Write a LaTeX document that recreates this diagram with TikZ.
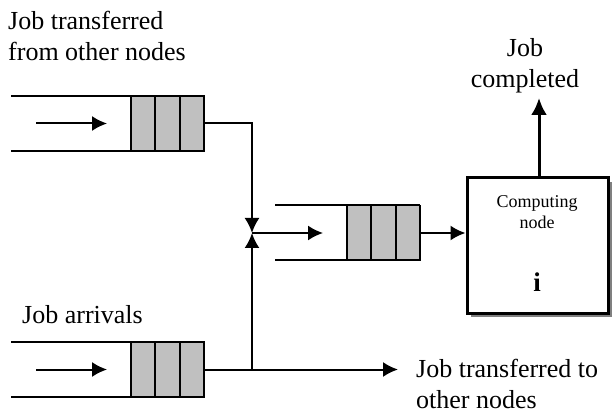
\documentclass[tikz,border=0pt]{standalone}
\usepackage{fontspec}
\setmainfont{Liberation Serif}
\usepackage{tikz}
\usetikzlibrary{positioning,arrows.meta,shadows}

\definecolor{cellgray}{HTML}{C0C0C0}

\tikzset{
  cell/.style={draw, fill=cellgray, line width=1.8pt, minimum width=24.3pt,
    minimum height=55pt, inner sep=0pt, outer sep=0pt},
  wall/.style={line width=2pt},
  link/.style={line width=2pt},
  flow/.style={line width=2pt, -{Latex[length=15pt,width=15pt]}},
  outflow/.style={line width=3pt, -{Latex[length=17pt,width=16pt]}},
  txt/.style={font=\fontsize{26}{31}\selectfont, align=left, inner sep=0pt},
  smalltxt/.style={font=\fontsize{18}{21}\selectfont, align=center, inner sep=0pt},
  compnode/.style={draw, fill=white, line width=3pt, minimum width=141pt,
    minimum height=135pt, drop shadow={shadow xshift=4pt, shadow yshift=-4pt,
    fill=black!50, opacity=1}},
}

\begin{document}
\begin{tikzpicture}[x=1pt, y=-1pt]
\useasboundingbox (0,0) rectangle (616,414);

% queue of jobs coming from the other nodes
\node[cell] (a1) at (143.2,123.5) {};
\node[cell, right=0pt of a1] (a2) {};
\node[cell, right=0pt of a2] (a3) {};
\draw[wall] (a1.north west) ++(-120,0) -- (a3.north east);
\draw[wall] (a1.south west) ++(-120,0) -- (a3.south east);
\draw[flow] ([xshift=-95pt]a1.west) -- ([xshift=-24pt]a1.west);

% local arrival queue
\node[cell] (c1) at (143.2,369.5) {};
\node[cell, right=0pt of c1] (c2) {};
\node[cell, right=0pt of c2] (c3) {};
\draw[wall] (c1.north west) ++(-120,0) -- (c3.north east);
\draw[wall] (c1.south west) ++(-120,0) -- (c3.south east);
\draw[flow] ([xshift=-95pt]c1.west) -- ([xshift=-24pt]c1.west);

% service queue
\node[cell] (b1) at (359.2,233) {};
\node[cell, right=0pt of b1] (b2) {};
\node[cell, right=0pt of b2] (b3) {};
\draw[wall] (b1.north west) ++(-72,0) -- (b3.north east);
\draw[wall] (b1.south west) ++(-72,0) -- (b3.south east);

% computing node
\node[compnode] (cn) at (537.5,245.5) {};
\node[smalltxt] (cname) at (537,212.5) {Computing\\node};
\node[font=\bfseries\fontsize{27}{32}\selectfont, inner sep=0pt, anchor=base] (cid) at (537,291) {i};

\coordinate (join) at (252,233);
\coordinate (split) at (c3.east -| join);
\coordinate (away) at (398,369.5);
\coordinate (done) at (539,98);

\draw[flow] (a3.east) -| (join);
\draw[link] (c3.east) -- (split);
\draw[flow] (split) -- (join);
\draw[flow] (split) -- (away);
\draw[flow] (join) -- ([xshift=-24pt]b1.west);
\draw[flow] (b3.east) -- (b3.east -| cn.west);
\draw[outflow] (cn.north -| done) -- (done);

% labels
\node[txt, anchor=west] (fromothers) at (8,36) {Job transferred\\from other nodes};
\node[txt, anchor=base west] (arrivals) at (22,323) {Job arrivals};
\node[txt, anchor=west] (toothers) at (416,383.5) {Job transferred to\\other nodes};
\node[txt, align=center] (completed) at (525,65.5) {Job\\completed};
\end{tikzpicture}
\end{document}
